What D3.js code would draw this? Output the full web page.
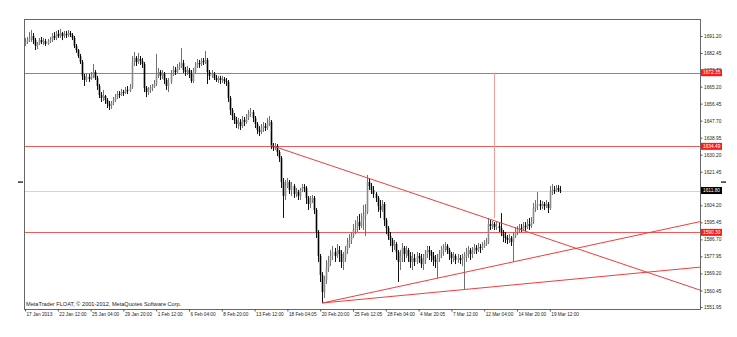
<!DOCTYPE html>
<html><head><meta charset="utf-8">
<script src="https://cdn.jsdelivr.net/npm/d3@7"></script>
<style>body{margin:0;background:#fff}svg{display:block}</style>
</head><body><svg id="c" width="737" height="337"></svg>
<script>
const dateLabels = ["17 Jan 2013","22 Jan 12:00","25 Jan 04:00","29 Jan 20:00","1 Feb 12:00","6 Feb 04:00","8 Feb 20:00","13 Feb 12:00","18 Feb 04:05","20 Feb 20:00","25 Feb 12:05","28 Feb 04:00","4 Mar 20:05","7 Mar 12:00","12 Mar 04:00","14 Mar 20:00","19 Mar 12:00"];
const dateTickBars = [0,16,32,48,64,80,96,112,128,144,160,176,192,208,224,240,256];
const priceTicks = [1691.20,1682.45,1673.70,1665.20,1656.45,1647.70,1638.95,1630.20,1621.45,1612.70,1604.20,1595.45,1586.70,1577.95,1569.20,1560.45,1551.95];

const opens = [
1687.1,1688.1,1689.1,1690.2,1691.2,1689.1,1686.1,1687.1,1689.1,1688.1,
1688.6,1687.1,1688.6,1689.1,1691.2,1690.2,1692.2,1691.2,1692.7,1691.2,
1692.2,1691.7,1692.7,1691.7,1690.2,1686.1,1684.0,1680.9,1677.8,1670.7,
1668.6,1670.1,1669.1,1670.7,1672.7,1669.6,1665.5,1660.9,1659.3,1660.4,
1658.3,1656.3,1655.2,1656.8,1658.3,1659.8,1661.4,1660.9,1662.4,1661.9,
1663.5,1662.9,1665.0,1677.8,1679.9,1677.8,1679.4,1678.4,1676.8,1664.5,
1662.4,1663.5,1664.5,1665.0,1666.5,1671.2,1672.7,1670.7,1671.7,1668.6,
1665.5,1667.6,1671.7,1673.7,1672.7,1674.8,1675.8,1677.3,1673.7,1672.7,
1673.7,1671.7,1668.1,1672.7,1675.8,1677.3,1676.8,1678.4,1677.8,1678.9,
1672.7,1670.7,1671.7,1669.6,1668.6,1669.6,1668.6,1669.1,1668.1,1667.6,
1659.3,1653.2,1650.1,1648.0,1646.0,1647.0,1644.9,1648.0,1647.0,1649.1,
1651.1,1652.1,1649.1,1646.0,1642.9,1641.9,1643.9,1644.9,1643.9,1646.0,
1647.0,1634.7,1633.6,1634.7,1631.6,1628.5,1616.2,1609.0,1614.1,1616.2,
1612.1,1614.1,1610.0,1611.0,1609.0,1612.1,1613.6,1613.1,1608.0,1604.9,
1606.9,1608.0,1601.8,1590.5,1578.2,1568.4,1559.6,1565.8,1572.0,1575.1,
1578.2,1580.2,1578.2,1581.2,1579.2,1575.1,1577.1,1581.2,1584.3,1586.4,
1588.4,1591.5,1592.5,1595.6,1593.6,1596.6,1598.7,1600.8,1616.2,1614.1,
1612.1,1610.0,1608.0,1603.8,1601.8,1604.9,1596.6,1592.5,1588.4,1586.4,
1583.3,1584.3,1580.2,1575.1,1578.2,1582.3,1579.2,1581.2,1578.2,1575.1,
1577.1,1575.1,1578.2,1577.1,1574.0,1576.1,1579.2,1581.2,1580.2,1578.2,
1576.1,1575.1,1577.1,1579.2,1581.2,1582.3,1583.3,1581.2,1579.2,1577.1,
1578.2,1576.1,1577.1,1576.1,1577.1,1578.2,1579.2,1581.2,1579.2,1580.2,
1582.3,1581.2,1582.8,1582.3,1583.3,1584.3,1585.3,1594.6,1593.6,1594.6,
1593.0,1593.6,1592.5,1590.5,1588.4,1587.4,1586.4,1587.4,1585.3,1588.4,
1590.5,1591.5,1592.5,1592.0,1593.6,1593.0,1594.6,1593.6,1595.6,1602.8,
1603.8,1604.9,1603.8,1604.9,1603.8,1604.9,1602.8,1611.0,1612.1,1611.6,
1613.1,1612.1];
const highs = [
1690.2,1690.7,1693.3,1694.3,1692.7,1690.2,1688.1,1690.2,1690.7,1690.2,
1689.7,1689.7,1690.7,1692.7,1693.3,1693.8,1694.3,1694.8,1693.3,1693.8,
1693.8,1694.3,1693.8,1692.7,1691.2,1687.1,1684.5,1682.0,1678.9,1671.7,
1672.2,1671.7,1672.7,1676.8,1673.7,1670.7,1666.5,1662.4,1663.5,1660.9,
1659.3,1657.8,1657.8,1659.8,1661.4,1662.9,1662.9,1664.0,1663.5,1665.0,
1665.5,1666.5,1680.9,1683.0,1680.9,1682.5,1680.9,1679.9,1677.8,1665.5,
1665.0,1666.0,1666.5,1668.6,1682.0,1674.8,1673.7,1673.7,1672.7,1669.6,
1669.6,1673.7,1675.8,1675.3,1676.8,1677.8,1685.0,1678.9,1675.3,1675.8,
1674.8,1673.7,1674.8,1677.8,1679.4,1678.9,1679.9,1679.9,1683.5,1679.9,
1673.7,1673.7,1672.7,1671.2,1670.7,1670.7,1670.7,1670.1,1669.6,1668.6,
1660.4,1654.2,1651.6,1649.6,1649.1,1648.5,1650.1,1649.6,1651.1,1653.2,
1654.2,1653.2,1650.1,1647.0,1644.9,1646.0,1647.0,1646.5,1649.1,1650.1,
1648.0,1636.2,1636.2,1635.7,1632.6,1629.5,1618.2,1617.2,1618.2,1617.2,
1616.2,1615.1,1613.1,1612.1,1613.1,1615.1,1615.1,1614.1,1609.0,1609.0,
1609.5,1609.0,1602.8,1591.5,1579.2,1569.9,1567.9,1576.1,1578.2,1581.2,
1583.3,1582.3,1584.3,1583.3,1581.2,1580.2,1583.3,1587.4,1589.4,1590.5,
1594.6,1596.6,1598.7,1599.7,1600.2,1604.4,1604.9,1619.8,1618.2,1615.7,
1614.1,1611.0,1609.0,1606.9,1606.9,1605.9,1597.7,1593.6,1590.5,1587.4,
1586.4,1585.3,1581.2,1581.2,1584.8,1583.3,1583.3,1582.3,1580.2,1580.2,
1579.2,1580.2,1579.7,1579.2,1579.2,1581.2,1583.3,1583.3,1581.2,1580.2,
1578.7,1579.2,1581.2,1583.3,1584.3,1585.3,1584.3,1582.3,1580.2,1580.2,
1579.2,1579.2,1578.7,1579.2,1580.2,1582.3,1583.3,1582.3,1582.8,1584.3,
1583.8,1584.8,1584.3,1585.3,1586.4,1587.4,1597.7,1596.6,1596.1,1595.6,
1595.6,1595.1,1600.2,1591.5,1590.5,1588.9,1589.4,1588.4,1590.5,1593.0,
1593.6,1594.6,1594.6,1595.6,1595.6,1597.1,1597.7,1598.2,1605.4,1606.9,
1611.0,1606.9,1606.4,1605.9,1606.9,1605.9,1614.1,1615.1,1614.1,1614.6,
1614.6,1614.1];
const lows = [
1686.1,1687.1,1688.1,1688.1,1687.1,1684.0,1684.5,1686.6,1687.1,1686.6,
1686.1,1686.6,1687.6,1688.1,1689.1,1689.1,1690.2,1690.2,1689.1,1690.2,
1690.2,1690.7,1690.7,1689.1,1685.0,1682.5,1679.9,1676.8,1668.6,1665.5,
1667.6,1667.6,1668.6,1669.6,1668.6,1663.5,1659.3,1657.3,1657.8,1656.3,
1654.2,1653.2,1653.7,1655.7,1657.3,1658.8,1659.3,1660.4,1660.4,1661.4,
1661.4,1662.4,1664.0,1675.8,1675.8,1676.8,1676.3,1674.8,1662.4,1659.8,
1660.9,1661.9,1662.9,1664.5,1665.5,1669.6,1668.6,1669.1,1666.5,1663.5,
1662.4,1666.5,1670.7,1671.2,1671.7,1673.7,1674.8,1672.2,1670.7,1671.2,
1669.6,1667.1,1667.1,1671.7,1674.8,1674.8,1675.8,1676.3,1676.8,1666.5,
1668.6,1669.6,1668.6,1667.6,1667.1,1666.5,1667.1,1666.5,1665.5,1657.3,
1650.6,1648.0,1646.0,1643.9,1643.4,1642.9,1643.9,1644.9,1646.0,1648.0,
1649.6,1647.0,1643.9,1640.8,1639.8,1640.8,1641.9,1642.4,1642.9,1644.9,
1633.1,1632.1,1632.6,1629.5,1626.5,1613.1,1597.7,1606.9,1613.1,1610.0,
1609.0,1608.0,1608.5,1606.9,1606.9,1611.0,1611.0,1604.9,1601.8,1602.8,
1605.4,1599.7,1587.4,1575.1,1564.8,1554.0,1556.6,1563.8,1569.9,1573.0,
1576.1,1575.1,1577.1,1575.1,1572.0,1570.9,1575.1,1579.2,1582.3,1584.3,
1587.4,1589.4,1590.5,1591.5,1592.5,1591.5,1588.4,1599.7,1612.1,1610.0,
1608.0,1605.9,1600.8,1597.7,1600.8,1593.6,1589.4,1586.4,1583.3,1580.2,
1581.2,1576.1,1564.8,1570.9,1575.1,1575.1,1577.1,1575.1,1572.0,1570.9,
1573.0,1574.0,1574.6,1572.0,1570.9,1574.0,1577.1,1576.1,1575.1,1573.0,
1572.0,1566.8,1575.1,1577.1,1578.2,1580.2,1579.2,1576.1,1574.0,1575.1,
1574.0,1574.6,1574.0,1573.0,1561.2,1575.1,1577.1,1576.1,1577.1,1579.2,
1579.2,1580.2,1579.7,1581.2,1582.3,1583.3,1584.3,1591.5,1592.0,1591.5,
1591.5,1590.5,1588.4,1585.3,1584.8,1584.3,1584.8,1583.3,1575.1,1587.4,
1588.9,1590.0,1590.5,1591.5,1591.0,1592.0,1591.5,1592.5,1594.6,1600.8,
1601.8,1601.8,1602.3,1601.8,1602.8,1600.2,1601.8,1609.5,1610.0,1611.0,
1611.0,1610.5];
const closes = [
1688.1,1689.1,1690.2,1691.2,1689.1,1686.1,1687.1,1689.1,1688.1,1688.6,
1687.1,1688.6,1689.1,1691.2,1690.2,1692.2,1691.2,1692.7,1691.2,1692.2,
1691.7,1692.7,1691.7,1690.2,1686.1,1684.0,1680.9,1677.8,1670.7,1668.6,
1670.1,1669.1,1670.7,1672.7,1669.6,1665.5,1660.9,1659.3,1660.4,1658.3,
1656.3,1655.2,1656.8,1658.3,1659.8,1661.4,1660.9,1662.4,1661.9,1663.5,
1662.9,1665.0,1677.8,1679.9,1677.8,1679.4,1678.4,1676.8,1664.5,1662.4,
1663.5,1664.5,1665.0,1666.5,1671.2,1672.7,1670.7,1671.7,1668.6,1665.5,
1667.6,1671.7,1673.7,1672.7,1674.8,1675.8,1677.3,1673.7,1672.7,1673.7,
1671.7,1668.1,1672.7,1675.8,1677.3,1676.8,1678.4,1677.8,1678.9,1672.7,
1670.7,1671.7,1669.6,1668.6,1669.6,1668.6,1669.1,1668.1,1667.6,1659.3,
1653.2,1650.1,1648.0,1646.0,1647.0,1644.9,1648.0,1647.0,1649.1,1651.1,
1652.1,1649.1,1646.0,1642.9,1641.9,1643.9,1644.9,1643.9,1646.0,1648.0,
1634.7,1633.6,1634.7,1631.6,1628.5,1616.2,1609.0,1614.1,1616.2,1612.1,
1614.1,1610.0,1611.0,1609.0,1612.1,1613.6,1613.1,1608.0,1604.9,1606.9,
1608.0,1601.8,1590.5,1578.2,1568.4,1559.6,1565.8,1572.0,1575.1,1578.2,
1580.2,1578.2,1581.2,1579.2,1575.1,1577.1,1581.2,1584.3,1586.4,1588.4,
1591.5,1592.5,1595.6,1593.6,1596.6,1598.7,1600.8,1616.2,1614.1,1612.1,
1610.0,1608.0,1603.8,1601.8,1604.9,1596.6,1592.5,1588.4,1586.4,1583.3,
1584.3,1580.2,1575.1,1578.2,1582.3,1579.2,1581.2,1578.2,1575.1,1577.1,
1575.1,1578.2,1577.1,1574.0,1576.1,1579.2,1581.2,1580.2,1578.2,1576.1,
1575.1,1577.1,1579.2,1581.2,1582.3,1583.3,1581.2,1579.2,1577.1,1578.2,
1576.1,1577.1,1576.1,1577.1,1578.2,1579.2,1581.2,1579.2,1580.2,1582.3,
1581.2,1582.8,1582.3,1583.3,1584.3,1585.3,1594.6,1593.6,1594.6,1593.0,
1593.6,1592.5,1590.5,1588.4,1587.4,1586.4,1587.4,1585.3,1588.4,1590.5,
1591.5,1592.5,1592.0,1593.6,1593.0,1594.6,1593.6,1595.6,1602.8,1603.8,
1604.9,1603.8,1604.9,1603.8,1604.9,1602.8,1611.0,1612.1,1611.6,1613.1,
1612.1,1611.8];

const hLevels = [1672.35, 1634.49, 1590.30];
const lastPrice = 1611.80;
const trendLines = [
  {b1:120, p1:1635.0, b2:167, p2:1618.3},
  {b1:145, p1:1554.0, b2:238, p2:1575.1},
  {b1:145, p1:1554.0, b2:214, p2:1560.9}
];
const vLine = {bar:229, p1:1672.35, p2:1597.7};
const copyright = "MetaTrader FLOAT, \u00A9 2001-2012, MetaQuotes Software Corp.";

const L=24, R=700, T=19, B=309;
const FONT = "'Liberation Sans', Arial, sans-serif";
const svg = d3.select("#c");
const x = d3.scaleLinear().domain([0, 329.27]).range([25, 700]);
const y = d3.scaleLinear().domain([1551.95, 1691.20]).range([307, 36]);
const px = v => Math.round(v) + 0.5;

svg.append("defs").append("clipPath").attr("id","clip")
  .append("rect").attr("x",L).attr("y",T).attr("width",R-L).attr("height",B-T);

const plot = svg.append("g").attr("clip-path","url(#clip)");

plot.append("line").attr("x1",L).attr("x2",R)
  .attr("y1",px(y(lastPrice))).attr("y2",px(y(lastPrice)))
  .attr("stroke","#d4d4d4").attr("stroke-width",1);

plot.selectAll(".hl").data(hLevels).enter().append("line")
  .attr("x1",L).attr("x2",R)
  .attr("y1",d=>px(y(d))).attr("y2",d=>px(y(d)))
  .attr("stroke","#f05a5a").attr("stroke-width",1);

plot.append("line").attr("x1",px(x(vLine.bar))).attr("x2",px(x(vLine.bar)))
  .attr("y1",y(vLine.p1)).attr("y2",y(vLine.p2))
  .attr("stroke","#f79a9a").attr("stroke-width",1);

const idx = d3.range(closes.length);
const cg = plot.append("g");
cg.selectAll(".w").data(idx).enter().append("line")
  .attr("x1",i=>px(x(i))).attr("x2",i=>px(x(i)))
  .attr("y1",i=>y(highs[i])).attr("y2",i=>y(lows[i]))
  .attr("stroke",i=>closes[i]>=opens[i]?"#707070":"#111").attr("stroke-width",1);
cg.selectAll(".b").data(idx).enter().append("rect")
  .attr("x",i=>Math.round(x(i))-0.3).attr("width",1.6)
  .attr("y",i=>Math.min(y(opens[i]),y(closes[i])))
  .attr("height",i=>Math.max(1,Math.abs(y(opens[i])-y(closes[i]))))
  .attr("fill",i=>closes[i]>=opens[i]?"#8a8a8a":"#000");

const xEnd = x.domain()[1];
plot.selectAll(".tl").data(trendLines).enter().append("line")
  .attr("x1",d=>x(d.b1)).attr("y1",d=>y(d.p1))
  .attr("x2",x(xEnd))
  .attr("y2",d=>y(d.p1 + (d.p2-d.p1)/(d.b2-d.b1)*(xEnd-d.b1)))
  .attr("stroke","#f23c3c").attr("stroke-width",1);

svg.append("text").attr("x",26).attr("y",306).text(copyright)
  .attr("font-family",FONT).attr("font-size",5.6).attr("fill","#222");

svg.append("rect").attr("x",L+0.5).attr("y",T+0.5).attr("width",R-L).attr("height",B-T)
  .attr("fill","none").attr("stroke","#666").attr("stroke-width",1);

const ya = svg.append("g").attr("transform",`translate(${R+0.5},0)`)
  .call(d3.axisRight(y).tickValues(priceTicks).tickSize(2).tickPadding(1.5).tickFormat(d3.format(".2f")));
ya.select(".domain").remove();
ya.selectAll("line").attr("stroke","#555");
ya.selectAll("text").attr("font-family",FONT).attr("font-size",4.8).attr("fill","#222");

const xa = svg.append("g").attr("transform",`translate(0,${B+0.5})`)
  .call(d3.axisBottom(x).tickValues(dateTickBars).tickSize(2).tickPadding(1).tickFormat((d,i)=>dateLabels[i]));
xa.select(".domain").remove();
xa.selectAll("line").attr("stroke","#555");
xa.selectAll("text").attr("font-family",FONT).attr("font-size",4.7).attr("fill","#222")
  .attr("text-anchor","start").attr("dx",1);

const boxes = hLevels.map(v=>({v, fill:"#ff1a1a"})).concat([{v:lastPrice, fill:"#000"}]);
const bg = svg.selectAll(".bx").data(boxes).enter().append("g")
  .attr("transform",d=>`translate(${R+1},${y(d.v)})`);
bg.append("rect").attr("x",0).attr("y",-3.5).attr("width",21).attr("height",7).attr("fill",d=>d.fill);
bg.append("text").attr("x",2).attr("y",1.7).text(d=>d3.format(".2f")(d.v))
  .attr("font-family",FONT).attr("font-size",4.8).attr("fill","#fff");

svg.append("rect").attr("x",18).attr("y",181.3).attr("width",5).attr("height",1.6).attr("fill","#444");
svg.append("rect").attr("x",721).attr("y",181.3).attr("width",5).attr("height",1.6).attr("fill","#444");
</script></body></html>
